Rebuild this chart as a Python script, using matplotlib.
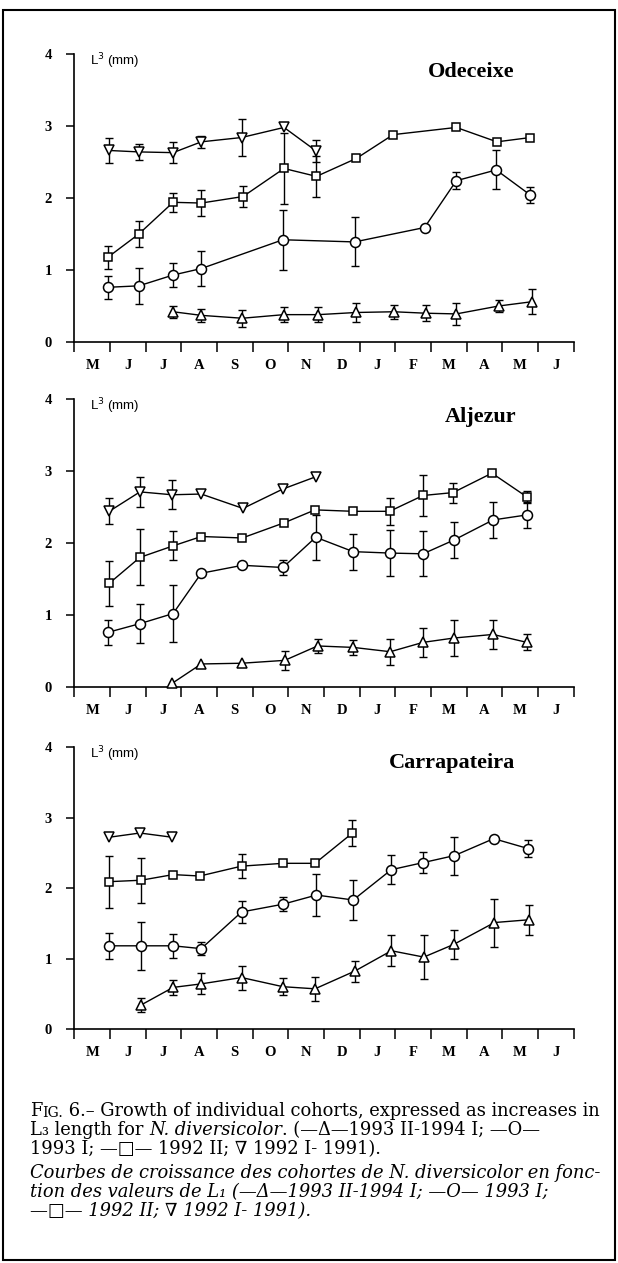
import numpy as np
import matplotlib.pyplot as plt
from matplotlib.patches import Rectangle

nan = np.nan

month_labels = ['M', 'J', 'J', 'A', 'S', 'O', 'N', 'D', 'J', 'F', 'M', 'A', 'M', 'J']
sites = ['Odeceixe', 'Aljezur', 'Carrapateira']

# Odeceixe
od_up_x = [2.77, 3.56, 4.71, 5.88, 6.84, 7.91, 8.96, 9.85, 10.71, 11.9, 12.84]
od_up_y = [0.42, 0.37, 0.33, 0.38, 0.38, 0.41, 0.42, 0.40, 0.39, 0.50, 0.56]
od_up_e = [0.08, 0.09, 0.12, 0.10, 0.10, 0.13, 0.10, 0.11, 0.15, 0.09, 0.17]
od_ci_x = [0.95, 1.81, 2.77, 3.56, 5.85, 7.86, 9.82, 10.71, 11.83, 12.79]
od_ci_y = [0.76, 0.78, 0.93, 1.02, 1.42, 1.39, 1.59, 2.24, 2.39, 2.04]
od_ci_e = [0.16, 0.25, 0.17, 0.24, 0.42, 0.34, nan, 0.12, 0.27, 0.11]
od_sq_x = [0.95, 1.81, 2.77, 3.56, 4.73, 5.88, 6.79, 7.91, 8.94, 10.71, 11.85, 12.79]
od_sq_y = [1.18, 1.50, 1.94, 1.93, 2.02, 2.41, 2.30, 2.55, 2.88, 2.98, 2.78, 2.84]
od_sq_e = [0.16, 0.18, 0.13, 0.18, 0.14, 0.49, 0.28, nan, nan, nan, nan, nan]
od_dn_x = [0.98, 1.81, 2.77, 3.56, 4.69, 5.88, 6.79]
od_dn_y = [2.66, 2.64, 2.63, 2.78, 2.84, 2.98, 2.65]
od_dn_e = [0.17, 0.11, 0.15, 0.08, 0.26, nan, 0.15]

# Aljezur
al_up_x = [2.74, 3.56, 4.69, 5.90, 6.82, 7.82, 8.86, 9.78, 10.64, 11.74, 12.69]
al_up_y = [0.05, 0.32, 0.33, 0.37, 0.57, 0.55, 0.49, 0.62, 0.68, 0.73, 0.62]
al_up_e = [nan, nan, nan, 0.13, 0.10, 0.10, 0.18, 0.20, 0.25, 0.20, 0.11]
al_ci_x = [0.95, 1.84, 2.77, 3.56, 4.71, 5.85, 6.77, 7.82, 8.86, 9.78, 10.64, 11.74, 12.69]
al_ci_y = [0.76, 0.88, 1.02, 1.58, 1.69, 1.66, 2.08, 1.88, 1.86, 1.85, 2.04, 2.32, 2.39]
al_ci_e = [0.17, 0.27, 0.40, nan, nan, 0.11, 0.31, 0.25, 0.32, 0.31, 0.25, 0.25, 0.18]
al_sq_x = [0.98, 1.84, 2.77, 3.56, 4.71, 5.88, 6.75, 7.82, 8.84, 9.78, 10.62, 11.71, 12.69]
al_sq_y = [1.44, 1.80, 1.96, 2.09, 2.07, 2.28, 2.46, 2.44, 2.44, 2.66, 2.70, 2.97, 2.64]
al_sq_e = [0.31, 0.39, 0.20, nan, nan, nan, nan, nan, 0.19, 0.28, 0.14, nan, 0.08]
al_dn_x = [0.98, 1.84, 2.74, 3.56, 4.73, 5.85, 6.77]
al_dn_y = [2.44, 2.71, 2.67, 2.68, 2.48, 2.75, 2.92]
al_dn_e = [0.18, 0.21, 0.20, nan, nan, nan, nan]

# Carrapateira
ca_up_x = [1.87, 2.77, 3.56, 4.69, 5.85, 6.75, 7.86, 8.89, 9.80, 10.64, 11.78, 12.76]
ca_up_y = [0.34, 0.59, 0.64, 0.73, 0.60, 0.57, 0.82, 1.11, 1.02, 1.20, 1.51, 1.55]
ca_up_e = [0.10, 0.11, 0.15, 0.17, 0.12, 0.17, 0.15, 0.22, 0.31, 0.20, 0.34, 0.21]
ca_ci_x = [0.98, 1.87, 2.77, 3.56, 4.69, 5.85, 6.79, 7.82, 8.89, 9.78, 10.66, 11.76, 12.72]
ca_ci_y = [1.18, 1.18, 1.18, 1.14, 1.66, 1.77, 1.90, 1.83, 2.26, 2.36, 2.46, 2.70, 2.56]
ca_ci_e = [0.18, 0.34, 0.17, 0.09, 0.16, 0.10, 0.30, 0.29, 0.21, 0.15, 0.27, nan, 0.12]
ca_sq_x = [0.98, 1.87, 2.77, 3.52, 4.69, 5.85, 6.75, 7.80]
ca_sq_y = [2.09, 2.11, 2.19, 2.17, 2.31, 2.35, 2.35, 2.78]
ca_sq_e = [0.37, 0.32, nan, nan, 0.17, nan, nan, 0.18]
ca_dn_x = [0.98, 1.84, 2.74]
ca_dn_y = [2.72, 2.78, 2.72]
ca_dn_e = [nan, nan, nan]

panels = [
    [(od_up_x, od_up_y, od_up_e, '^'), (od_ci_x, od_ci_y, od_ci_e, 'o'),
     (od_sq_x, od_sq_y, od_sq_e, 's'), (od_dn_x, od_dn_y, od_dn_e, 'v')],
    [(al_up_x, al_up_y, al_up_e, '^'), (al_ci_x, al_ci_y, al_ci_e, 'o'),
     (al_sq_x, al_sq_y, al_sq_e, 's'), (al_dn_x, al_dn_y, al_dn_e, 'v')],
    [(ca_up_x, ca_up_y, ca_up_e, '^'), (ca_ci_x, ca_ci_y, ca_ci_e, 'o'),
     (ca_sq_x, ca_sq_y, ca_sq_e, 's'), (ca_dn_x, ca_dn_y, ca_dn_e, 'v')],
]

W, H = 618, 1263
fig = plt.figure(figsize=(W / 100, H / 100), dpi=100)
serif = ['Liberation Serif', 'DejaVu Serif']
capfont = ['DejaVu Serif']

# axes boxes in pixels: (bottom y of 0, top y of 4)
boxes = [(342, 54), (687, 399), (1029, 747)]
title_pos = [(11.14, 3.75), (11.39, 3.75), (10.6, 3.77)]
msize = {'^': 7.5, 'v': 7.5, 'o': 7.2, 's': 6.3}

for i, (y0, y4) in enumerate(boxes):
    ax = fig.add_axes([74.3 / W, 1 - y0 / H, 499.3 / W, (y0 - y4) / H])
    for xs, ys, es, mk in panels[i]:
        ax.errorbar(xs, ys, yerr=es, fmt='none', ecolor='black', elinewidth=1,
                    capsize=3, capthick=1, zorder=2, clip_on=False)
        ax.plot(xs, ys, color='black', lw=1, marker=mk, ms=msize[mk],
                mfc='white', mec='black', mew=1.1, zorder=3, clip_on=False)
    ax.set_xlim(0, 14)
    ax.set_ylim(0, 4)
    ax.spines['top'].set_visible(False)
    ax.spines['right'].set_visible(False)
    ax.spines['left'].set_linewidth(1.2)
    ax.spines['bottom'].set_linewidth(1.2)
    ax.set_xticks(range(15))
    ax.set_xticklabels([])
    ax.set_xticks(np.arange(0.5, 14), minor=True)
    ax.set_xticklabels(month_labels, minor=True, family=serif,
                       fontweight='bold', fontsize=10.5)
    ax.tick_params(axis='x', which='major', length=7, width=1.1, direction='out')
    ax.tick_params(axis='x', which='minor', length=0, pad=12)
    ax.set_yticks(range(5))
    ax.set_yticklabels([str(v) for v in range(5)], family=serif,
                       fontweight='bold', fontsize=10.5)
    ax.tick_params(axis='y', length=6, width=1.1, direction='out', pad=10)
    ax.text(0.45, 3.9, 'L$^{3}$ (mm)', family='Liberation Sans', fontsize=9.5,
            va='center', ha='left')
    tx, ty = title_pos[i]
    ax.text(tx, ty, sites[i], family=serif, fontweight='bold', fontsize=16,
            ha='center', va='center')

# caption
cap = fig.add_axes([0, 0, 1, 1])
cap.axis('off')
cap.set_xlim(0, 1)
cap.set_ylim(0, 1)


def chain(x, ypix, pieces, size):
    first = True
    t = None
    for s, style, scale in pieces:
        kw = dict(family=capfont, fontsize=size * scale, fontstyle=style,
                  va='bottom', ha='left')
        if first:
            t = cap.text(x, 1 - ypix / H, s, **kw)
            first = False
        else:
            t = cap.annotate(s, xy=(1, 0), xycoords=t, **kw)
    return t


cs = 12.9
x0 = 30 / W
chain(x0, 1120, [('F', 'normal', 1), ('IG.', 'normal', 0.78),
                 (' 6.\u2013 Growth of individual cohorts, expressed as increases in', 'normal', 1)], cs)
chain(x0, 1139, [('L\u2083 length for ', 'normal', 1), ('N. diversicolor', 'italic', 1),
                 ('. (\u2014\u0394\u20141993 II-1994 I; \u2014O\u2014', 'normal', 1)], cs)
chain(x0, 1158, [('1993 I; \u2014\u25a1\u2014 1992 II; \u2207 1992 I- 1991).', 'normal', 1)], cs)
chain(x0, 1182, [('Courbes de croissance des cohortes de N. diversicolor en fonc-', 'italic', 1)], cs)
chain(x0, 1201, [('tion des valeurs de L\u2081 (\u2014\u0394\u20141993 II-1994 I; \u2014O\u2014 1993 I;', 'italic', 1)], cs)
chain(x0, 1220, [('\u2014\u25a1\u2014 1992 II; \u2207 1992 I- 1991).', 'italic', 1)], cs)

# outer frame
fig.add_artist(Rectangle((3 / W, 3 / H), 612 / W, 1 - 13 / H, transform=fig.transFigure,
                         fill=False, lw=1.5, ec='black'))

fig.savefig('out.png', dpi=100)
